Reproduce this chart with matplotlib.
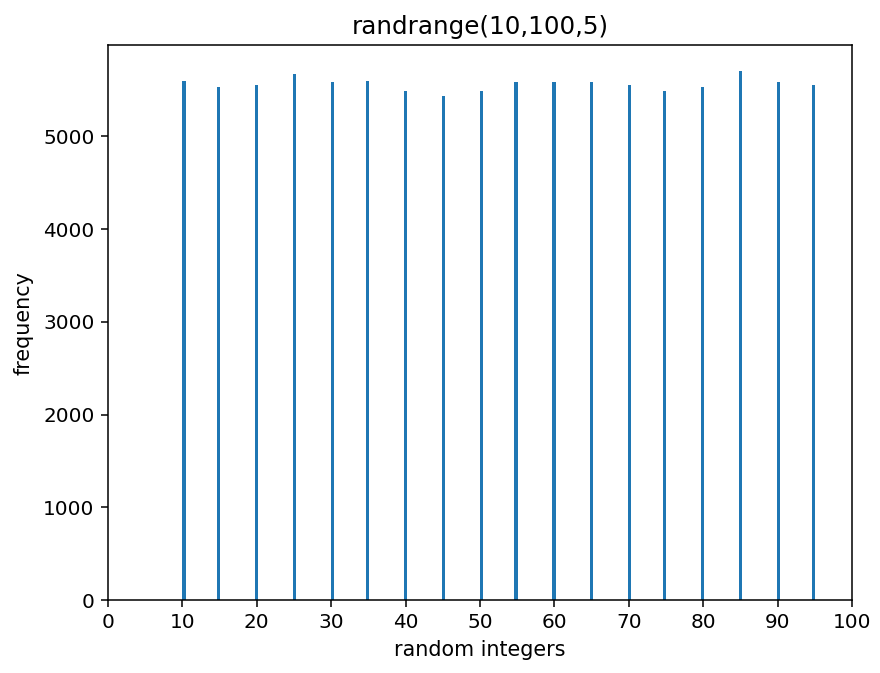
import numpy as np
from matplotlib import pyplot as plt

# values returned by randrange(10,100,5) and how often each came up
values = [10, 15, 20, 25, 30, 35, 40, 45, 50, 55, 60, 65, 70, 75, 80, 85, 90, 95]
counts = [5598, 5530, 5550, 5675, 5582, 5598, 5485, 5432, 5485,
          5582, 5582, 5582, 5550, 5485, 5530, 5700, 5582, 5550]

fig = plt.figure(figsize=(6.4, 4.895), dpi=137.5)
ax = fig.add_axes([0.1227, 0.1085, 0.8455, 0.8245])

ax.hist(values, bins=200, range=(10, 95), weights=counts)
ax.set_xticks(np.arange(0, 101, 10))
ax.set_xlim(0, 100)
ax.tick_params(labelsize=10.5)
ax.set_title('randrange(10,100,5)', fontsize=12.9)
ax.set_xlabel('random integers', fontsize=10.8)
ax.set_ylabel('frequency', fontsize=10.8, labelpad=5)

fig.savefig('out.png', dpi=137.5)
